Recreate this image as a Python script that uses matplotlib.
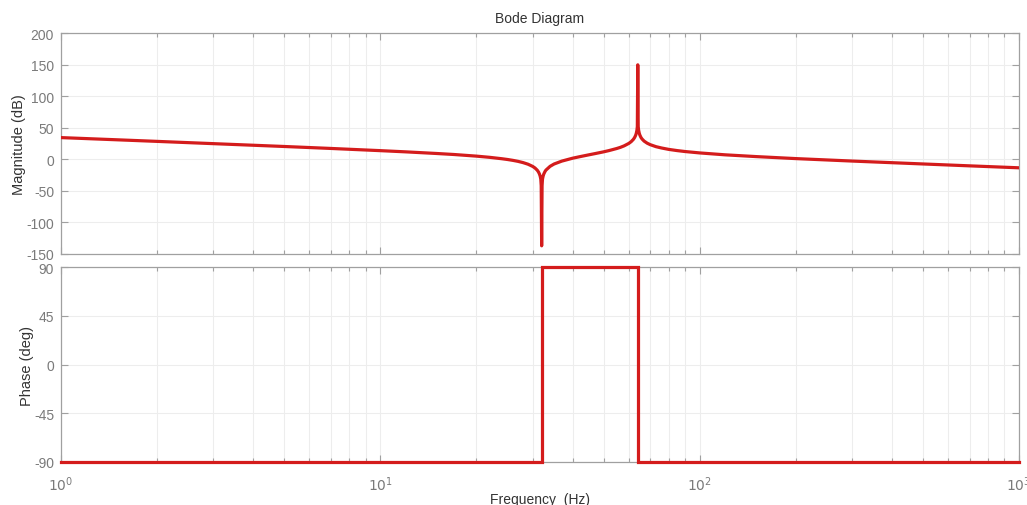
import matplotlib
matplotlib.use("Agg")
import matplotlib.pyplot as plt
from matplotlib.ticker import LogLocator, FixedLocator, NullFormatter

plt.rcParams["font.family"] = ["Liberation Sans", "DejaVu Sans"]
plt.rcParams["axes.unicode_minus"] = False

# Magnitude response (Hz, dB)
freq_hz = [1, 1.5, 2, 3, 5, 7, 10, 12, 15, 17, 20, 22, 24, 25, 26, 27, 28,
           29, 30, 30.5, 31, 31.3, 31.5, 31.65, 31.8, 31.9, 32, 32.1, 32.2,
           32.35, 32.5, 32.8, 33, 34, 35, 37, 40, 42, 45, 47, 50, 52, 55,
           56.5, 58, 60, 61, 62, 62.5, 63, 63.3, 63.6, 63.8, 64, 64.2, 64.4,
           64.7, 65, 65.5, 66, 67, 68.5, 70, 73, 76, 80, 85, 90, 100, 120,
           150, 200, 300, 500, 700, 1000]
magnitude_db = [34.6, 31.1, 28.6, 25.0, 20.5, 17.4, 13.9, 12.0, 9.4, 7.8,
                5.2, 3.3, 1.1, -0.1, -1.5, -3.1, -5.1, -7.6, -11.1, -13.6,
                -17.1, -20.2, -23.2, -26.2, -31.1, -41.7, -137, -41.6, -31.0,
                -26.2, -23.1, -19.0, -17.0, -11.0, -7.3, -2.7, 1.9, 4.2, 7.3,
                9.2, 12.0, 14.0, 17.3, 19.2, 21.5, 25.4, 28.1, 31.8, 34.4,
                38.0, 41.1, 46.0, 52.0, 150, 52.1, 46.1, 41.3, 38.3, 34.8,
                32.4, 29.0, 25.7, 23.4, 20.2, 18.1, 15.9, 14.0, 12.5, 10.3,
                7.3, 4.5, 1.3, -2.6, -7.2, -10.2, -13.3]

# Phase response (Hz, deg)
phase_freq_hz = [1, 32, 32, 64, 64, 1000]
phase_deg = [-90, -90, 90, 90, -90, -90]

mag_ticks = [-150, -100, -50, 0, 50, 100, 150, 200]
phase_ticks = [-90, -45, 0, 45, 90]
freq_ticks = [1, 10, 100, 1000]
freq_tick_labels = [r"$10^{0}$", r"$10^{1}$", r"$10^{2}$", r"$10^{3}$"]

line_color = "#d41c1c"
tick_color = "#7a7a7a"
grid_color = "#ededed"
spine_color = "#a0a0a0"
label_color = "#333333"

W, H = 1027, 506
fig = plt.figure(figsize=(W / 100, H / 100), dpi=100)
ax_mag = fig.add_axes([61 / W, 1 - 255 / H, 958 / W, 220.7 / H])
ax_ph = fig.add_axes([61 / W, 1 - 463 / H, 958 / W, 195 / H])


def style_axes(ax, yticks):
    ax.set_xscale("log")
    ax.set_xlim(1, 1000)
    ax.set_yticks(yticks)
    ax.set_ylim(yticks[0], yticks[-1])
    ax.xaxis.set_major_locator(FixedLocator(freq_ticks))
    ax.xaxis.set_minor_locator(LogLocator(base=10, subs=range(2, 10)))
    ax.xaxis.set_minor_formatter(NullFormatter())
    ax.grid(True, which="major", color=grid_color, linewidth=0.8)
    ax.grid(True, which="minor", axis="x", color=grid_color, linewidth=0.8)
    ax.set_axisbelow(True)
    ax.tick_params(which="both", direction="in", top=True, right=True,
                   color=spine_color, labelcolor=tick_color, labelsize=10)
    ax.tick_params(which="major", length=5, width=0.8)
    ax.tick_params(which="minor", length=3, width=0.8)
    ax.tick_params(axis="y", pad=5)
    for s in ax.spines.values():
        s.set_color(spine_color)
        s.set_linewidth(0.9)


style_axes(ax_mag, mag_ticks)
style_axes(ax_ph, phase_ticks)

ax_mag.plot(freq_hz, magnitude_db, color=line_color, linewidth=2.3,
            solid_joinstyle="round", zorder=3)
ax_mag.tick_params(axis="x", labelbottom=False)
ax_mag.set_ylabel("Magnitude (dB)", fontsize=10.5, color=label_color, labelpad=0)
ax_mag.set_title("Bode Diagram", fontsize=10, color=label_color, pad=8)

ax_ph.plot(phase_freq_hz, phase_deg, color=line_color, linewidth=2.3,
           clip_on=False, solid_joinstyle="miter", zorder=3)
ax_ph.set_xticks(freq_ticks)
ax_ph.set_xticklabels(freq_tick_labels)
ax_ph.tick_params(axis="x", pad=9, labelsize=10)
ax_ph.set_ylabel("Phase (deg)", fontsize=10.5, color=label_color, labelpad=0)

fig.text(540 / W, 1 - 500 / H, "Frequency  (Hz)", ha="center", va="center",
         fontsize=10, color=label_color)

fig.savefig("out.png", dpi=100, facecolor="white")
